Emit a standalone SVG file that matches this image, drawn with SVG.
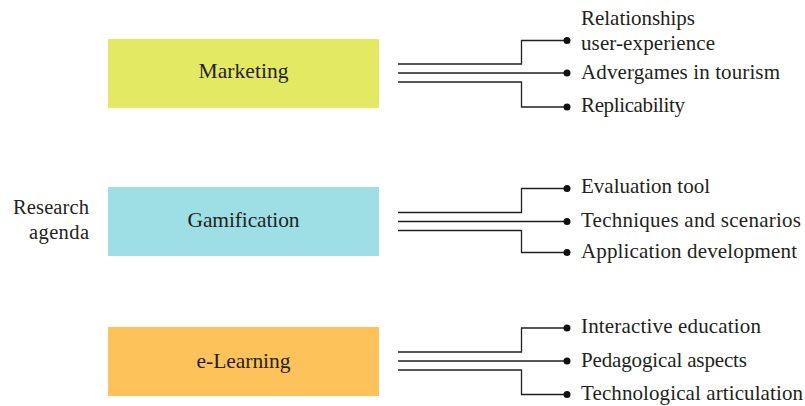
<svg xmlns="http://www.w3.org/2000/svg" width="805" height="406" viewBox="0 0 805 406">
  <style>
    text { font-family: "Liberation Serif", "Times New Roman", serif; fill: #231f20; }
    .lbl { font-size: 21px; }
    .box-lbl { font-size: 21.5px; text-anchor: middle; }
    .side { font-size: 20.5px; text-anchor: end; }
    .wire { fill: none; stroke: #231f20; stroke-width: 1.3; }
    .dot { fill: #111; }
  </style>

  <!-- side heading -->
  <g id="research-agenda">
    <text class="side" x="89" y="214.3" textLength="76">Research</text>
    <text class="side" x="89" y="239.3" textLength="60">agenda</text>
  </g>

  <!-- topic boxes -->
  <g id="marketing">
    <rect x="108" y="39" width="271" height="69" fill="#e3e962"/>
    <text class="box-lbl" x="243.5" y="78.3" textLength="90">Marketing</text>
  </g>
  <g id="gamification">
    <rect x="108" y="187" width="271" height="69" fill="#9edfe6"/>
    <text class="box-lbl" x="243.5" y="226.7" textLength="112">Gamification</text>
  </g>
  <g id="e-learning">
    <rect x="108" y="327" width="271" height="69" fill="#fdc35a"/>
    <text class="box-lbl" x="243.5" y="367.7" textLength="94">e-Learning</text>
  </g>

  <!-- branch connectors -->
  <g id="connectors">
    <path class="wire" d="M398,64 H521.5 V40.5 H567"/>
    <path class="wire" d="M398,73 H567"/>
    <path class="wire" d="M398,82 H521.5 V107 H567"/>
    <circle class="dot" cx="567" cy="40.5" r="3.5"/>
    <circle class="dot" cx="567" cy="73" r="3.5"/>
    <circle class="dot" cx="567" cy="107" r="3.5"/>

    <path class="wire" d="M398,212.5 H521.5 V188.5 H567"/>
    <path class="wire" d="M398,221.5 H567"/>
    <path class="wire" d="M398,230.5 H521.5 V252.5 H567"/>
    <circle class="dot" cx="567" cy="188.5" r="3.5"/>
    <circle class="dot" cx="567" cy="221.5" r="3.5"/>
    <circle class="dot" cx="567" cy="252.5" r="3.5"/>

    <path class="wire" d="M398,352 H521.5 V328 H567"/>
    <path class="wire" d="M398,361 H567"/>
    <path class="wire" d="M398,370 H521.5 V394.5 H567"/>
    <circle class="dot" cx="567" cy="328" r="3.5"/>
    <circle class="dot" cx="567" cy="361" r="3.5"/>
    <circle class="dot" cx="567" cy="394.5" r="3.5"/>
  </g>

  <!-- leaf topics: marketing -->
  <g id="marketing-relationships">
    <text class="lbl" x="581" y="25" textLength="114">Relationships</text>
    <text class="lbl" x="581" y="50" textLength="134">user-experience</text>
  </g>
  <g id="marketing-advergames">
    <text class="lbl" x="581" y="79" textLength="199">Advergames in tourism</text>
  </g>
  <g id="marketing-replicability">
    <text class="lbl" x="581" y="112" textLength="104">Replicability</text>
  </g>

  <!-- leaf topics: gamification -->
  <g id="gamification-evaluation">
    <text class="lbl" x="581" y="193" textLength="129">Evaluation tool</text>
  </g>
  <g id="gamification-techniques">
    <text class="lbl" x="581" y="226.5" textLength="220">Techniques and scenarios</text>
  </g>
  <g id="gamification-application">
    <text class="lbl" x="581" y="258" textLength="216">Application development</text>
  </g>

  <!-- leaf topics: e-learning -->
  <g id="elearning-interactive">
    <text class="lbl" x="581" y="333" textLength="180">Interactive education</text>
  </g>
  <g id="elearning-pedagogical">
    <text class="lbl" x="581" y="366.5" textLength="166">Pedagogical aspects</text>
  </g>
  <g id="elearning-technological">
    <text class="lbl" x="581" y="400" textLength="222">Technological articulation</text>
  </g>
</svg>
